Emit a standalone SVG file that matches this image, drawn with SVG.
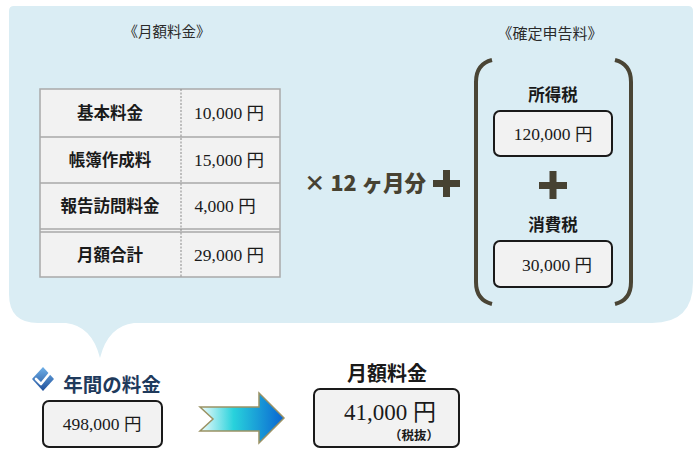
<svg xmlns="http://www.w3.org/2000/svg" width="700" height="462" viewBox="0 0 700 462">
<defs>
<linearGradient id="arrowGrad" x1="0" y1="0" x2="1" y2="0">
<stop offset="0" stop-color="#f2fcfc"/>
<stop offset="0.4" stop-color="#28d2dc"/>
<stop offset="1" stop-color="#0a64d2"/>
</linearGradient>
<linearGradient id="checkGrad" x1="0" y1="0" x2="0" y2="1">
<stop offset="0" stop-color="#6fb0e8"/>
<stop offset="1" stop-color="#1f4f9a"/>
</linearGradient>
<style>
.panel{fill:#daedf4;}
.cell{fill:#f2f2f2;}
.grid{stroke:#a9a9a9;stroke-width:1.5;fill:none;}
.dash{stroke:#8a8a8a;stroke-width:1;stroke-dasharray:2,1.5;}
.lbl{font-family:"Noto Sans CJK JP","Noto Sans",sans-serif;font-weight:bold;fill:#1a1a1a;text-anchor:middle;}
.num{font-family:"Liberation Serif","Noto Sans CJK JP",serif;fill:#1a1a1a;text-anchor:middle;}
.title{font-family:"Noto Sans CJK JP",sans-serif;fill:#2a2a2a;text-anchor:middle;}
.box{fill:#f2f2f2;stroke:#1a1a1a;stroke-width:2;}
.op{fill:#474232;}
.brk{fill:none;stroke:#4a4535;stroke-width:4;stroke-linecap:butt;}
</style>
</defs>

<g id="panel">
<path class="panel" d="M14,6 H688 Q693,6 693,11 V282 Q693,323 652,323 H134 Q108,326 100,358 Q92,326 66,323 H38 Q9,323 9,294 V11 Q9,6 14,6 Z"/>
</g>

<g id="monthly-title">
<text class="title" x="167" y="37" font-size="14.5">《月額料金》</text>
</g>

<g id="table">
<rect class="cell" x="40" y="89" width="240" height="188"/>
<path class="grid" d="M40,89 H280 V277 H40 Z M40,137 H280 M40,183 H280 M40,229 H280 M40,232 H280"/>
<line class="dash" x1="181" y1="89" x2="181" y2="277"/>
<text class="lbl" x="110" y="119" font-size="16.5">基本料金</text>
<text class="num" x="229" y="119" font-size="17.5">10,000 円</text>
<text class="lbl" x="110" y="166" font-size="16.5">帳簿作成料</text>
<text class="num" x="229" y="166" font-size="17.5">15,000 円</text>
<text class="lbl" x="110" y="212" font-size="16.5">報告訪問料金</text>
<text class="num" x="225" y="212" font-size="17.5">4,000 円</text>
<text class="lbl" x="110" y="261" font-size="16.5">月額合計</text>
<text class="num" x="229" y="261" font-size="17.5">29,000 円</text>
</g>

<g id="times12">
<text x="365" y="191" font-family="Noto Sans CJK JP,sans-serif" font-weight="900" font-size="21.5" fill="#474232" text-anchor="middle">× 12 ヶ月分</text>
</g>

<g id="plus1">
<rect class="op" x="433" y="180" width="27" height="7"/>
<rect class="op" x="443" y="170" width="7" height="27"/>
</g>

<g id="tax-title">
<text class="title" x="550" y="39" font-size="15">《確定申告料》</text>
</g>

<g id="brackets">
<path class="brk" d="M492,60 Q476,64 476,82 V282 Q476,300 492,304"/>
<path class="brk" d="M615,60 Q631,64 631,82 V282 Q631,300 615,304"/>
</g>

<g id="income-tax">
<text class="lbl" x="553" y="101" font-size="16.5">所得税</text>
<rect class="box" x="494" y="111" width="118" height="45" rx="6"/>
<text class="num" x="553" y="140" font-size="17.5">120,000 円</text>
</g>

<g id="plus2">
<rect class="op" x="539" y="182" width="28" height="7"/>
<rect class="op" x="549.5" y="171" width="7" height="28"/>
</g>

<g id="consumption-tax">
<text class="lbl" x="553" y="231" font-size="16.5">消費税</text>
<rect class="box" x="494" y="241" width="118" height="46" rx="6"/>
<text class="num" x="557" y="271" font-size="17.5">30,000 円</text>
</g>

<g id="annual">
<g id="check-icon">
<path d="M43,367 L54,379 L43,391 L32,379 Z" fill="url(#checkGrad)"/>
<path d="M36,379 L41,384 L50,373" fill="none" stroke="#ffffff" stroke-width="2.6" stroke-linecap="round" stroke-linejoin="round"/>
</g>
<text x="112" y="392" font-family="Noto Sans CJK JP,sans-serif" font-weight="bold" font-size="19.5" fill="#1f3a5c" text-anchor="middle">年間の料金</text>
<rect class="box" x="43" y="401" width="119" height="46" rx="6"/>
<text class="num" x="102" y="430" font-size="17.5">498,000 円</text>
</g>

<g id="connectors">
<path d="M200,407 H259 V393 L284,418 L259,443 V431 H200 L213,419 Z" fill="url(#arrowGrad)" stroke="#9a9264" stroke-width="1.5" stroke-linejoin="miter"/>
</g>

<g id="monthly-fee">
<text class="lbl" x="387" y="381" font-size="20">月額料金</text>
<rect class="box" x="314" y="389" width="145" height="58" rx="6"/>
<text class="num" x="390" y="420" font-size="23">41,000 円</text>
<text class="lbl" x="414" y="440" font-size="12.5">（税抜）</text>
</g>
</svg>
